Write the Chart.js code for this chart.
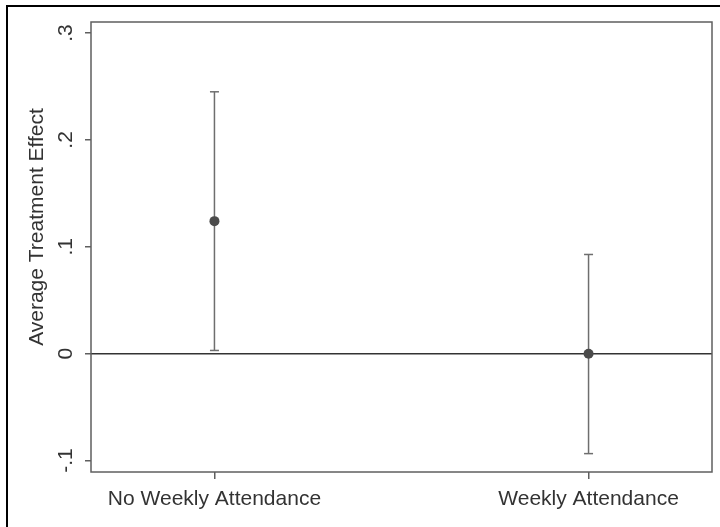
<!DOCTYPE html>
<html>
<head>
<meta charset="utf-8">
<script src="https://cdn.jsdelivr.net/npm/chart.js@4/dist/chart.umd.min.js"></script>
<style>
  html, body { margin: 0; padding: 0; background: #fff; }
  canvas { display: block; }
</style>
</head>
<body>
<canvas id="ateChart" width="720" height="527"></canvas>
<script>
// values
const categories = ['No Weekly Attendance', 'Weekly Attendance'];
const catX = [1, 2];
const estimates = [0.124, 0.0];
const ciLower = [0.003, -0.0935];
const ciUpper = [0.245, 0.0928];
const yTicks = [-0.1, 0, 0.1, 0.2, 0.3];

const fontFamily = '"Liberation Sans", Arial, Helvetica, sans-serif';
const textColor = '#333333';
const axisColor = '#5f5f5f';

let ctx = document.getElementById('ateChart');

const fmtTick = (v) => {
    if (Math.abs(v) < 1e-9) return '0';
    let s = Math.abs(v).toFixed(1).replace(/^0/, '');
    return (v < 0 ? '-' : '') + s;
};

// one small line dataset per confidence interval, caps are 'line' points
let ciSets = catX.map(function (x, i) {
    return {
        type: 'scatter',
        data: [{x: x, y: ciLower[i]}, {x: x, y: ciUpper[i]}],
        showLine: true,
        borderColor: '#6e6e6e',
        borderWidth: 1.5,
        pointStyle: 'line',
        pointRadius: 4.5,
        pointBorderWidth: 1.5,
        pointBorderColor: '#6e6e6e',
        order: 2
    };
});

let pointSet = {
    type: 'scatter',
    data: catX.map((x, i) => ({x: x, y: estimates[i]})),
    pointRadius: 5,
    pointBackgroundColor: '#4b4b4b',
    pointBorderWidth: 0,
    order: 1
};

const framePlugin = {
    id: 'frame',
    beforeDraw(chart) {
        let c = chart.ctx;
        c.save();
        c.fillStyle = '#000';
        c.fillRect(6, 5, 714, 2);
        c.fillRect(6, 5, 2, 522);
        c.restore();
    },
    afterDraw(chart) {
        let c = chart.ctx;
        let a = chart.chartArea;
        c.save();
        c.strokeStyle = axisColor;
        c.lineWidth = 1.5;
        c.strokeRect(a.left, a.top, a.right - a.left, a.bottom - a.top);
        // y axis title
        c.fillStyle = textColor;
        c.font = '21px ' + fontFamily;
        c.textAlign = 'center';
        c.textBaseline = 'middle';
        c.translate(37, 227);
        c.rotate(-Math.PI / 2);
        c.fillText('Average Treatment Effect', 0, 0);
        c.restore();
    }
};

new Chart(ctx, {
    data: {
        datasets: ciSets.concat([pointSet])
    },
    options: {
        responsive: false,
        animation: false,
        devicePixelRatio: 1,
        layout: {
            padding: {left: 51, top: 22, right: 8, bottom: 15}
        },
        plugins: {
            legend: {display: false},
            tooltip: {enabled: false}
        },
        scales: {
            x: {
                type: 'linear',
                min: 0.67,
                max: 2.33,
                afterBuildTicks: (scale) => { scale.ticks = catX.map(v => ({value: v})); },
                afterFit: (scale) => { scale.height = 40; },
                grid: {
                    color: 'rgba(0,0,0,0)',
                    tickColor: axisColor,
                    tickLength: 7,
                    lineWidth: 1.5
                },
                border: {display: false},
                ticks: {
                    autoSkip: false,
                    maxRotation: 0,
                    padding: 8,
                    color: textColor,
                    font: {family: fontFamily, size: 21},
                    callback: (v) => {
                        let i = catX.indexOf(v);
                        return i >= 0 ? categories[i] : '';
                    }
                }
            },
            y: {
                type: 'linear',
                min: -0.1107,
                max: 0.3103,
                afterBuildTicks: (scale) => { scale.ticks = yTicks.map(v => ({value: v})); },
                afterFit: (scale) => { scale.width = 40; },
                grid: {
                    color: (c) => (c.tick && Math.abs(c.tick.value) < 1e-9) ? '#333333' : 'rgba(0,0,0,0)',
                    lineWidth: 1.5,
                    tickColor: axisColor,
                    tickLength: 6
                },
                border: {display: false},
                ticks: {
                    minRotation: 90,
                    maxRotation: 90,
                    crossAlign: 'center',
                    padding: 7,
                    color: textColor,
                    font: {family: fontFamily, size: 21},
                    callback: (v) => fmtTick(v)
                }
            }
        }
    },
    plugins: [framePlugin]
});
</script>
</body>
</html>
